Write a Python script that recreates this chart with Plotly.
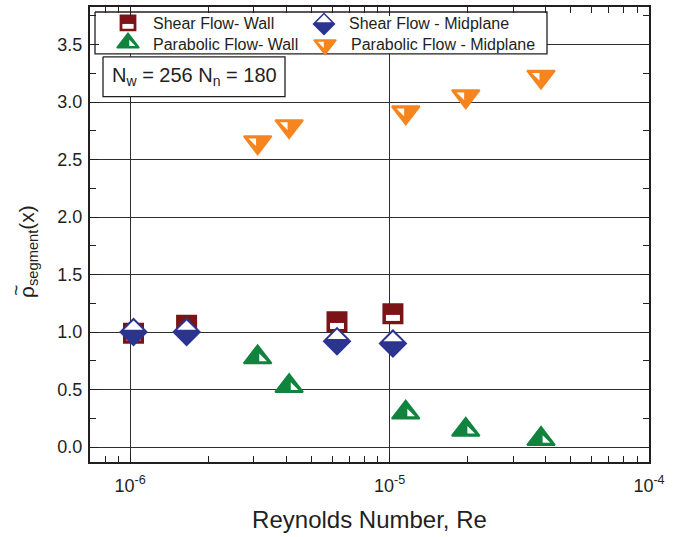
import math
import plotly.graph_objects as go

# ---- data -------------------------------------------------------------
re_shear = [1.03e-6, 1.65e-6, 6.27e-6, 1.03e-5]
rho_shear_wall = [0.99, 1.06, 1.09, 1.16]
rho_shear_mid = [1.00, 1.00, 0.92, 0.90]

re_parab = [3.10e-6, 4.10e-6, 1.154e-5, 1.966e-5, 3.835e-5]
rho_parab_wall = [0.78, 0.53, 0.30, 0.15, 0.07]
rho_parab_mid = [2.65, 2.79, 2.91, 3.05, 3.22]

series_names = ["Shear Flow- Wall", "Shear Flow - Midplane",
                "Parabolic Flow- Wall", "Parabolic Flow - Midplane"]

x_tick_vals = [1e-6, 1e-5, 1e-4]
x_tick_text = ["10<sup>-6</sup>", "10<sup>-5</sup>", "10<sup>-4</sup>"]
y_tick_vals = [0.0, 0.5, 1.0, 1.5, 2.0, 2.5, 3.0, 3.5]
y_tick_text = ["%.1f" % v for v in y_tick_vals]

# ---- page geometry ----------------------------------------------------
W, H = 680, 537
ML, MR, MT, MB = 90, 31, 5, 75
PW, PH = W - ML - MR, H - MT - MB
X_RANGE = [math.log10(7e-7), -4.0]
Y_RANGE = [-0.13, 3.826]
PX_PER_DEC = PW / (X_RANGE[1] - X_RANGE[0])
PX_PER_UNIT = PH / (Y_RANGE[1] - Y_RANGE[0])

RED, NAVY, GREEN, ORANGE = "#7c1417", "#2b3590", "#10843f", "#f6851f"
INK = "#231f20"
FONT = "Liberation Sans, Arial, sans-serif"


def paper_x(px):
    return (px - ML) / PW


def paper_y(py):
    return 1 - (py - MT) / PH


# half-filled symbols: a coloured body plus a white insert offset in pixels
STYLES = {
    "wall_shear": dict(color=RED, symbol="square", size=19, lw=2,
                       ins=dict(symbol="line-ew", size=10, lw=6, angle=0, dx=0, dy=4.3)),
    "mid_shear": dict(color=NAVY, symbol="diamond", size=20, lw=2,
                      ins=dict(symbol="triangle-ne", size=14.8, lw=0, angle=-45, dx=0, dy=-5.4)),
    "wall_parab": dict(color=GREEN, symbol="triangle-up", size=24, lw=2,
                       ins=dict(symbol="triangle-sw", size=8.5, lw=0, angle=0, dx=4.15, dy=1.25)),
    "mid_parab": dict(color=ORANGE, symbol="triangle-down", size=24, lw=2,
                      ins=dict(symbol="triangle-ne", size=8.5, lw=0, angle=0, dx=-4.15, dy=-1.25)),
}


def data_shift(xs, ys, dx, dy):
    """Move points by (dx, dy) screen pixels on the log-x / linear-y axes."""
    return ([x * 10 ** (dx / PX_PER_DEC) for x in xs],
            [y - dy / PX_PER_UNIT for y in ys])


def pixel_shift(xs, ys, dx, dy):
    """Same for the pixel-scaled overlay axes (y grows downward)."""
    return [x + dx for x in xs], [y + dy for y in ys]


def add_series(fig, xs, ys, style, name, xref="x", yref="y", k=1.0):
    st = STYLES[style]
    fig.add_trace(go.Scatter(
        x=xs, y=ys, mode="markers", name=name, showlegend=False,
        xaxis=xref, yaxis=yref,
        marker=dict(symbol=st["symbol"], size=st["size"] * k, color=st["color"],
                    line=dict(color=st["color"], width=st["lw"] * k))))
    ins = st["ins"]
    shift = data_shift if xref == "x" else pixel_shift
    ix, iy = shift(xs, ys, ins["dx"] * k, ins["dy"] * k)
    fig.add_trace(go.Scatter(
        x=ix, y=iy, mode="markers", showlegend=False, hoverinfo="skip",
        xaxis=xref, yaxis=yref,
        marker=dict(symbol=ins["symbol"], size=ins["size"] * k, color="white",
                    angle=ins["angle"],
                    line=dict(color="white", width=ins["lw"] * k))))


def add_box(fig, x0, y0, x1, y1):
    """White framed box on the pixel overlay axes (hides the grid beneath)."""
    fig.add_trace(go.Scatter(
        x=[x0, x1, x1, x0, x0], y=[y0, y0, y1, y1, y0], mode="lines",
        fill="toself", fillcolor="white", line=dict(color=INK, width=1.3),
        xaxis="x2", yaxis="y2", showlegend=False, hoverinfo="skip"))


fig = go.Figure()

add_series(fig, re_shear, rho_shear_wall, "wall_shear", series_names[0])
add_series(fig, re_shear, rho_shear_mid, "mid_shear", series_names[1])
add_series(fig, re_parab, rho_parab_wall, "wall_parab", series_names[2])
add_series(fig, re_parab, rho_parab_mid, "mid_parab", series_names[3])

add_box(fig, 95, 10, 547, 52)
add_box(fig, 103, 55, 285, 95)

# legend rows: (style, marker x, marker y, text x, text y) in page pixels
legend_rows = [
    ("wall_shear", 128, 21, 151, 22),
    ("mid_shear", 324, 22, 347, 22),
    ("wall_parab", 128, 41, 151, 43),
    ("mid_parab", 325, 43, 349, 43),
]
annotations = []
for (style, mx, my, tx, ty), name in zip(legend_rows, series_names):
    add_series(fig, [mx], [my], style, name, xref="x2", yref="y2", k=0.8)
    annotations.append(dict(x=tx, y=ty, xref="x2", yref="y2", text=name,
                            showarrow=False, xanchor="left", yanchor="middle",
                            font=dict(family=FONT, size=16, color=INK)))

annotations.append(dict(x=194, y=75, xref="x2", yref="y2",
                        text="N<sub>w</sub> = 256 N<sub>n</sub> = 180",
                        showarrow=False, xanchor="center", yanchor="middle",
                        font=dict(family=FONT, size=20, color=INK)))

# y-axis title, with the tilde accent drawn over the rho
annotations.append(dict(x=paper_x(28), y=paper_y(251), xref="paper", yref="paper",
                        text="\u03c1<sub>segment</sub>(x)", showarrow=False,
                        textangle=-90, xanchor="center", yanchor="middle",
                        font=dict(family=FONT, size=21, color=INK)))
annotations.append(dict(x=paper_x(16), y=paper_y(290), xref="paper", yref="paper",
                        text="~", showarrow=False, textangle=-90,
                        xanchor="center", yanchor="middle",
                        font=dict(family=FONT, size=19, color=INK)))

minor_x = [m * 10 ** e for e in (-7, -6, -5) for m in range(2, 10)
           if 7e-7 <= m * 10 ** e <= 1e-4]

axis_common = dict(
    showline=True, linewidth=2, linecolor=INK, mirror="allticks",
    ticks="inside", ticklen=9, tickwidth=1.3, tickcolor=INK,
    showgrid=True, gridcolor="#2e2e2e", gridwidth=1, zeroline=False,
    tickfont=dict(family=FONT, size=18, color=INK),
)

fig.update_layout(
    width=W, height=H,
    margin=dict(l=ML, r=MR, t=MT, b=MB, pad=0),
    paper_bgcolor="white", plot_bgcolor="white",
    showlegend=False,
    xaxis=dict(type="log", range=X_RANGE, tickmode="array",
               tickvals=x_tick_vals, ticktext=x_tick_text, ticklabelstandoff=6,
               minor=dict(tickmode="array", tickvals=minor_x, ticks="inside",
                          ticklen=6, tickwidth=1.2, tickcolor=INK, showgrid=False),
               title=dict(text="Reynolds Number, Re", standoff=17,
                          font=dict(family=FONT, size=24, color=INK)),
               **axis_common),
    yaxis=dict(range=Y_RANGE, tickmode="array",
               tickvals=y_tick_vals, ticktext=y_tick_text, ticklabelstandoff=2,
               minor=dict(dtick=0.25, tick0=0, ticks="inside",
                          ticklen=6, tickwidth=1.2, tickcolor=INK, showgrid=False),
               **axis_common),
    xaxis2=dict(overlaying="x", range=[ML, W - MR], visible=False,
                showgrid=False, zeroline=False),
    yaxis2=dict(overlaying="y", range=[H - MB, MT], visible=False,
                showgrid=False, zeroline=False),
    annotations=annotations,
)

fig.write_html("out.html")
